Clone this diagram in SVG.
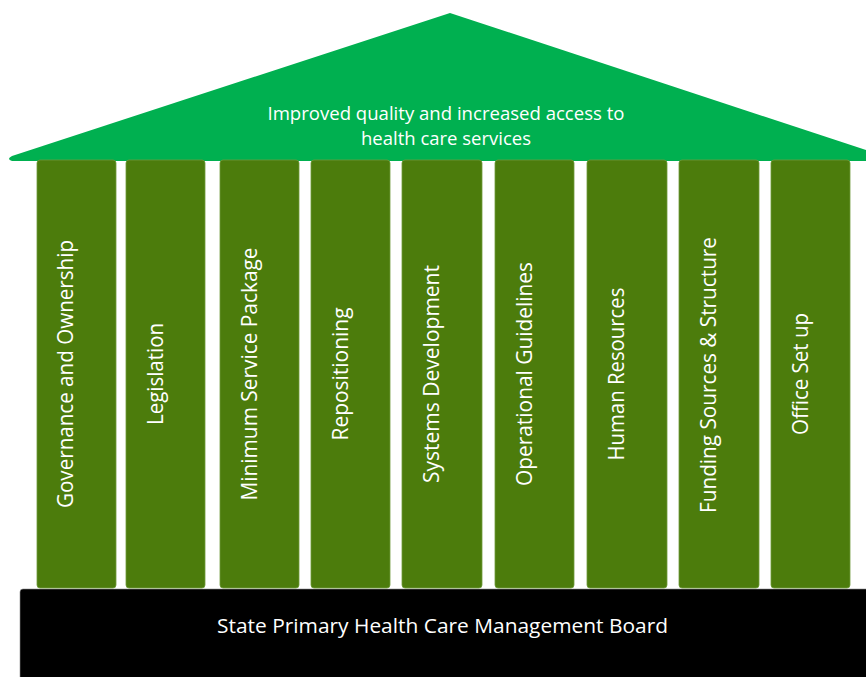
<svg xmlns="http://www.w3.org/2000/svg" width="866" height="677" viewBox="0 0 866 677">
<style>
.pillar{fill:#4C7C0C;stroke:#6E9A3A;stroke-width:0.8}
.pt{font-family:"Open Sans","Liberation Sans",sans-serif;font-size:22px;fill:#FFFFFF;text-anchor:middle}
.rt{font-family:"Open Sans","Liberation Sans",sans-serif;font-size:18px;fill:#FFFFFF;text-anchor:middle}
.bt{font-family:"Open Sans","Liberation Sans",sans-serif;font-size:20px;fill:#FFFFFF;text-anchor:middle}
</style>
<rect width="866" height="677" fill="#FFFFFF"/>
<g id="roof">
<path d="M 12 156 L 450 13 L 890 158 L 890 161 L 12 161 Q 6 159 12 156 Z" fill="#00B050"/>
<text class="rt" x="446" y="120" textLength="357" lengthAdjust="spacingAndGlyphs">Improved quality and increased access to</text>
<text class="rt" x="446" y="145" textLength="170" lengthAdjust="spacingAndGlyphs">health care services</text>
</g>
<g id="base">
<rect x="20" y="589" width="860" height="100" rx="3" fill="#000000" stroke="#8A8A8A" stroke-width="0.6"/>
<text class="bt" x="442.5" y="633" textLength="451" lengthAdjust="spacingAndGlyphs">State Primary Health Care Management Board</text>
</g>
<g id="p1">
<rect class="pillar" x="37" y="160" width="79" height="428" rx="3"/>
<text class="pt" transform="translate(73,374) rotate(-90)" textLength="268" lengthAdjust="spacingAndGlyphs">Governance and Ownership</text>
</g>
<g id="p2">
<rect class="pillar" x="126" y="160" width="79" height="428" rx="3"/>
<text class="pt" transform="translate(162.5,374) rotate(-90)" textLength="102" lengthAdjust="spacingAndGlyphs">Legislation</text>
</g>
<g id="p3">
<rect class="pillar" x="220" y="160" width="79" height="428" rx="3"/>
<text class="pt" transform="translate(256.5,374) rotate(-90)" textLength="253" lengthAdjust="spacingAndGlyphs">Minimum Service Package</text>
</g>
<g id="p4">
<rect class="pillar" x="311" y="160" width="79" height="428" rx="3"/>
<text class="pt" transform="translate(347.5,374) rotate(-90)" textLength="133" lengthAdjust="spacingAndGlyphs">Repositioning</text>
</g>
<g id="p5">
<rect class="pillar" x="402" y="160" width="80" height="428" rx="3"/>
<text class="pt" transform="translate(439,374) rotate(-90)" textLength="218" lengthAdjust="spacingAndGlyphs">Systems Development</text>
</g>
<g id="p6">
<rect class="pillar" x="495" y="160" width="79" height="428" rx="3"/>
<text class="pt" transform="translate(531.5,374) rotate(-90)" textLength="224" lengthAdjust="spacingAndGlyphs">Operational Guidelines</text>
</g>
<g id="p7">
<rect class="pillar" x="587" y="160" width="80" height="428" rx="3"/>
<text class="pt" transform="translate(624,374) rotate(-90)" textLength="173" lengthAdjust="spacingAndGlyphs">Human Resources</text>
</g>
<g id="p8">
<rect class="pillar" x="679" y="160" width="80" height="428" rx="3"/>
<text class="pt" transform="translate(716,375) rotate(-90)" textLength="276" lengthAdjust="spacingAndGlyphs">Funding Sources &amp; Structure</text>
</g>
<g id="p9">
<rect class="pillar" x="771" y="160" width="79" height="428" rx="3"/>
<text class="pt" transform="translate(808,374) rotate(-90)" textLength="122" lengthAdjust="spacingAndGlyphs">Office Set up</text>
</g>
<g id="connectors"></g>
</svg>
